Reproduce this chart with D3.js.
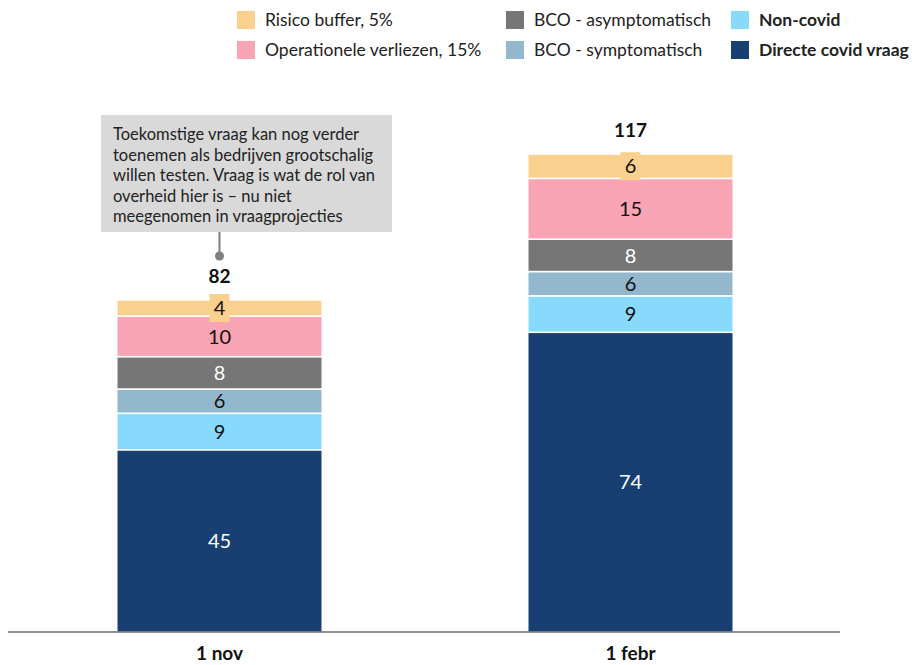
<!DOCTYPE html>
<html>
<head>
<meta charset="utf-8">
<script src="https://cdn.jsdelivr.net/npm/d3@7"></script>
<style>
  body { margin: 0; background: #fff; }
  svg text { font-family: Lato, "Open Sans", sans-serif; }
</style>
</head>
<body>
<div id="chart"></div>
<script>
(function() {
  var width = 917, height = 665;

  // data
  var categories = ["1 nov", "1 febr"];
  var totals = [82, 117];
  var seriesNames = ["Directe covid vraag", "Non-covid", "BCO - symptomatisch",
    "BCO - asymptomatisch", "Operationele verliezen, 15%", "Risico buffer, 5%"];
  var directeCovid = [45, 74];
  var nonCovid = [9, 9];
  var bcoSymptomatisch = [6, 6];
  var bcoAsymptomatisch = [8, 8];
  var operationeleVerliezen = [10, 15];
  var risicoBuffer = [4, 6];

  var colors = ["#173f72", "#88dafc", "#93b7cc", "#767676", "#f8a4b4", "#fad08f"];
  var labelColors = ["#fff", "#111", "#111", "#fff", "#111", "#111"];

  var seriesValues = [directeCovid, nonCovid, bcoSymptomatisch, bcoAsymptomatisch,
    operationeleVerliezen, risicoBuffer];

  var rows = categories.map(function(c, i) {
    var r = { cat: c };
    seriesNames.forEach(function(s, j) { r[s] = seriesValues[j][i]; });
    return r;
  });

  var svg = d3.select("#chart")
    .append("svg")
    .attr("width", width)
    .attr("height", height);

  var x = d3.scaleBand()
    .domain(categories)
    .range([14, 836])
    .paddingInner(0.5)
    .paddingOuter(0.25);

  var y = d3.scaleLinear()
    .domain([0, 100])
    .range([632, 227]);

  var stack = d3.stack().keys(seriesNames);
  var stacked = stack(rows);

  var layers = svg.selectAll(".layer")
    .data(stacked)
    .enter().append("g")
    .attr("class", "layer")
    .attr("fill", function(d, i) { return colors[i]; });

  layers.selectAll("rect")
    .data(function(d) { return d; })
    .enter().append("rect")
    .attr("x", function(d) { return x(d.data.cat); })
    .attr("width", x.bandwidth())
    .attr("y", function(d) { return y(d[1]); })
    .attr("height", function(d) { return y(d[0]) - y(d[1]); })
    .attr("stroke", "#fff")
    .attr("stroke-width", 1.5);

  // segment labels
  stacked.forEach(function(layer, i) {
    layer.forEach(function(d) {
      var cx = x(d.data.cat) + x.bandwidth() / 2;
      var cy = (y(d[0]) + y(d[1])) / 2;
      if (i === stacked.length - 1) {
        // little label box sticking out of the thin top segment
        svg.append("rect")
          .attr("x", cx - 10)
          .attr("y", cy - 14)
          .attr("width", 20)
          .attr("height", 28)
          .attr("fill", colors[i]);
      }
      svg.append("text")
        .attr("x", cx)
        .attr("y", cy)
        .attr("dy", "0.36em")
        .attr("text-anchor", "middle")
        .attr("font-size", 20)
        .attr("fill", labelColors[i])
        .text(d[1] - d[0]);
    });
  });

  // totals
  svg.selectAll(".total")
    .data(categories)
    .enter().append("text")
    .attr("class", "total")
    .attr("x", function(d) { return x(d) + x.bandwidth() / 2; })
    .attr("y", function(d, i) {
      return y(d3.sum(seriesValues, function(s) { return s[i]; })) - 17;
    })
    .attr("text-anchor", "middle")
    .attr("font-size", 19)
    .attr("font-weight", "bold")
    .attr("fill", "#111")
    .text(function(d, i) { return totals[i]; });

  // baseline axis
  var xAxis = d3.axisBottom(x).tickSize(0).tickPadding(15);
  var axisG = svg.append("g")
    .attr("class", "axis x-axis")
    .attr("transform", "translate(0," + y(0) + ")")
    .call(xAxis);
  axisG.select(".domain")
    .attr("d", "M8,0H840")
    .attr("stroke", "#222")
    .attr("stroke-width", 1.2);
  axisG.selectAll("text")
    .attr("font-family", "Lato, sans-serif")
    .attr("font-size", 19)
    .attr("font-weight", "bold")
    .attr("fill", "#111");

  // callout
  var calloutLines = ["Toekomstige vraag kan nog verder",
    "toenemen als bedrijven grootschalig",
    "willen testen. Vraag is wat de rol van",
    "overheid hier is \u2013 nu niet",
    "meegenomen in vraagprojecties"];
  var calloutX = x("1 nov") + x.bandwidth() / 2;
  svg.append("rect")
    .attr("x", 101)
    .attr("y", 115)
    .attr("width", 291)
    .attr("height", 117)
    .attr("fill", "#d9d9d9");
  svg.append("line")
    .attr("x1", calloutX).attr("x2", calloutX)
    .attr("y1", 232).attr("y2", 256)
    .attr("stroke", "#7f7f7f")
    .attr("stroke-width", 2);
  svg.append("circle")
    .attr("cx", calloutX)
    .attr("cy", 256)
    .attr("r", 4.5)
    .attr("fill", "#7f7f7f");
  svg.append("text")
    .attr("x", 113)
    .attr("y", 140)
    .attr("font-size", 16.5)
    .attr("fill", "#222")
    .selectAll("tspan")
    .data(calloutLines)
    .enter().append("tspan")
    .attr("x", 113)
    .attr("dy", function(d, i) { return i === 0 ? 0 : 20.5; })
    .text(function(d) { return d; });

  // legend
  var legendOrder = [5, 4, 3, 2, 1, 0];
  var legendPos = [[237, 20], [237, 50], [506, 20], [506, 50], [731, 20], [731, 50]];
  var legend = svg.selectAll(".legend")
    .data(legendOrder)
    .enter().append("g")
    .attr("class", "legend")
    .attr("transform", function(d, i) {
      return "translate(" + legendPos[i][0] + "," + legendPos[i][1] + ")";
    });
  legend.append("rect")
    .attr("x", 0).attr("y", -9)
    .attr("width", 18).attr("height", 18)
    .attr("fill", function(d) { return colors[d]; });
  legend.append("text")
    .attr("x", 28)
    .attr("dy", "0.35em")
    .attr("font-size", 17.5)
    .attr("font-weight", function(d) { return d <= 1 ? "bold" : "normal"; })
    .attr("fill", "#222")
    .text(function(d) { return seriesNames[d]; });
})();
</script>
</body>
</html>
